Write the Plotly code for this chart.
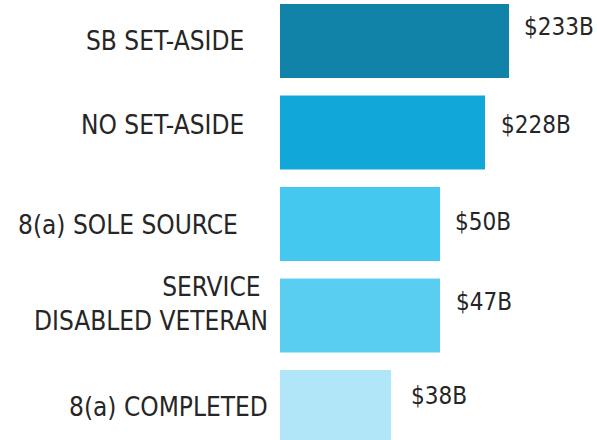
import plotly.graph_objects as go

categories = ["SB SET-ASIDE", "NO SET-ASIDE", "8(a) SOLE SOURCE", "SERVICE DISABLED VETERAN", "8(a) COMPLETED"]
category_labels = ["SB SET-ASIDE", "NO SET-ASIDE", "8(a) SOLE SOURCE", "SERVICE\u00a0<br>DISABLED VETERAN", "8(a) COMPLETED"]
values_billion = [233, 228, 50, 47, 38]
bar_display_length = [229, 205, 160, 160, 111]
colors = ["#1283A8", "#11A8D9", "#44C8F0", "#5ACEF0", "#B0E6F7"]

# layout-only tweaks (label placement)
cat_label_right = [-34, -34, -40, -10, -10]
cat_label_yshift = [0, 7, -1, 11, 0]
val_label_gap = [13, 14, 13, 14, 18]
val_label_yshift = [14, 7, 2, 13, 11]

FONT = "DejaVu Sans Condensed, Liberation Sans Narrow, Arial Narrow, sans-serif"
TXT = "#262626"

fig = go.Figure(go.Bar(
    y=categories, x=bar_display_length, orientation="h",
    marker=dict(color=colors, line=dict(width=0)),
    hoverinfo="skip",
))

annotations = []
for i, cat in enumerate(categories):
    annotations.append(dict(
        x=cat_label_right[i], y=cat, xref="x", yref="y",
        text=category_labels[i], showarrow=False, xanchor="right", yanchor="middle",
        align="right", yshift=cat_label_yshift[i],
        font=dict(family=FONT, size=26, color=TXT),
    ))
    annotations.append(dict(
        x=bar_display_length[i] + val_label_gap[i], y=cat, xref="x", yref="y",
        text=f"${values_billion[i]}B", showarrow=False, xanchor="left", yanchor="middle",
        yshift=val_label_yshift[i],
        font=dict(family=FONT, size=24, color=TXT),
    ))

fig.update_layout(
    width=597, height=440,
    margin=dict(l=0, r=0, t=0, b=0),
    paper_bgcolor="white", plot_bgcolor="white",
    bargap=0.19,
    showlegend=False,
    xaxis=dict(range=[-280, 317], visible=False, fixedrange=True),
    yaxis=dict(categoryorder="array", categoryarray=categories,
               range=[4.361, -0.448], visible=False, fixedrange=True),
    annotations=annotations,
)

fig.write_html("out.html", config={"displayModeBar": False, "staticPlot": True},
               post_script="document.body.style.margin='0';document.body.style.overflow='hidden';")
